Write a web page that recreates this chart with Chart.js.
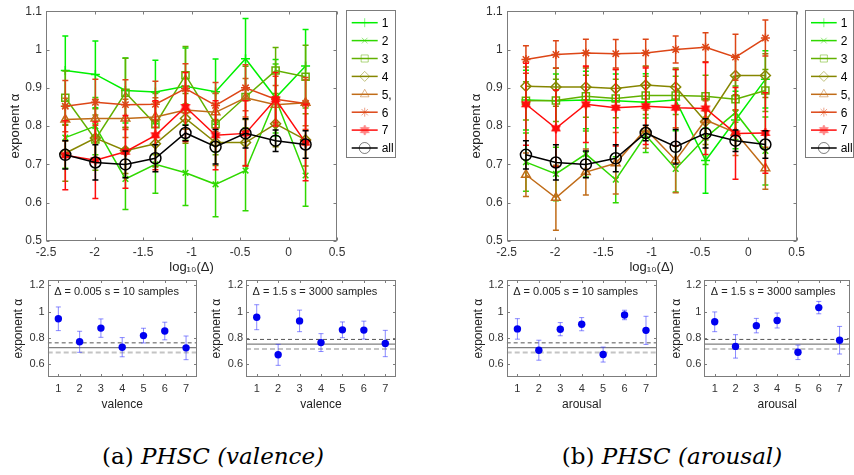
<!DOCTYPE html>
<html><head><meta charset="utf-8">
<script src="https://cdn.jsdelivr.net/npm/chart.js@4.4.0/dist/chart.umd.min.js"></script>
<style>
html,body{margin:0;padding:0;background:#fff;width:854px;height:475px;overflow:hidden;}
canvas{position:absolute;}
.cap{position:absolute;font-family:"DejaVu Serif","Liberation Serif",serif;font-size:23px;line-height:26px;color:#000;white-space:nowrap;transform:translateX(-50%);}
.cap i{font-style:italic;}
</style></head><body>
<canvas id="tl" width="430" height="280" style="left:0;top:0"></canvas>
<canvas id="tr" width="424" height="280" style="left:430px;top:0"></canvas>
<canvas id="p1" width="210" height="150" style="left:0;top:270px"></canvas>
<canvas id="p2" width="210" height="150" style="left:205px;top:270px"></canvas>
<canvas id="p3" width="210" height="150" style="left:455px;top:270px"></canvas>
<canvas id="p4" width="189" height="150" style="left:665px;top:270px"></canvas>
<div class="cap" style="left:213px;top:443px">(a) <i>PHSC (valence)</i></div>
<div class="cap" style="left:672px;top:443px">(b) <i>PHSC (arousal)</i></div>
<script>
// ---------------- data ----------------
const logDelta = [-2.301, -1.991, -1.681, -1.372, -1.062, -0.752, -0.443, -0.133, 0.176];
const seriesNames = ['1', '2', '3', '4', '5,', '6', '7', 'all'];
const levels = [1, 2, 3, 4, 5, 6, 7];
const topXTicks = [-2.5, -2, -1.5, -1, -0.5, 0, 0.5];
const topYTicks = [0.5, 0.6, 0.7, 0.8, 0.9, 1.0, 1.1];
const smallYTicks = [0.6, 0.8, 1.0, 1.2];
const noteFirst = 'Δ = 0.005 s = 10 samples';
const noteLast = 'Δ = 1.5 s = 3000 samples';

// valence
const val1 = [0.945, 0.935, 0.893, 0.889, 0.904, 0.890, 0.976, 0.874, 0.957];
const val1Err = [0.090, 0.087, 0.085, 0.083, 0.100, 0.085, 0.105, 0.100, 0.095];
const val2 = [0.770, 0.800, 0.662, 0.700, 0.678, 0.648, 0.684, 0.872, 0.671];
const val2Err = [0.080, 0.075, 0.080, 0.075, 0.085, 0.085, 0.105, 0.090, 0.080];
const val3 = [0.874, 0.765, 0.887, 0.805, 0.933, 0.805, 0.876, 0.945, 0.929];
const val3Err = [0.070, 0.080, 0.090, 0.080, 0.075, 0.080, 0.080, 0.060, 0.082];
const val4 = [0.729, 0.769, 0.736, 0.754, 0.820, 0.757, 0.757, 0.806, 0.764];
const val4Err = [0.073, 0.060, 0.060, 0.060, 0.065, 0.060, 0.060, 0.060, 0.068];
const val5 = [0.817, 0.820, 0.820, 0.824, 0.842, 0.836, 0.874, 0.856, 0.861];
const val5Err = [0.056, 0.050, 0.050, 0.050, 0.050, 0.050, 0.050, 0.050, 0.060];
const val6 = [0.852, 0.862, 0.856, 0.857, 0.898, 0.854, 0.900, 0.870, 0.859];
const val6Err = [0.067, 0.060, 0.065, 0.060, 0.065, 0.060, 0.060, 0.060, 0.068];
const val7 = [0.724, 0.711, 0.733, 0.776, 0.850, 0.776, 0.781, 0.870, 0.757];
const val7Err = [0.090, 0.100, 0.095, 0.090, 0.090, 0.090, 0.085, 0.070, 0.100];

// arousal
const aro1 = [0.868, 0.866, 0.868, 0.866, 0.862, 0.868, 0.710, 0.816, 0.922];
const aro1Err = [0.078, 0.070, 0.075, 0.070, 0.075, 0.080, 0.085, 0.075, 0.075];
const aro2 = [0.706, 0.675, 0.727, 0.660, 0.776, 0.688, 0.770, 0.835, 0.735];
const aro2Err = [0.076, 0.070, 0.060, 0.060, 0.045, 0.060, 0.070, 0.070, 0.089];
const aro3 = [0.866, 0.867, 0.878, 0.872, 0.880, 0.880, 0.878, 0.870, 0.893];
const aro3Err = [0.050, 0.055, 0.055, 0.050, 0.050, 0.050, 0.055, 0.060, 0.055];
const aro4 = [0.904, 0.902, 0.902, 0.898, 0.907, 0.902, 0.812, 0.932, 0.932];
const aro4Err = [0.050, 0.050, 0.050, 0.050, 0.050, 0.050, 0.060, 0.050, 0.057];
const aro5 = [0.673, 0.613, 0.680, 0.703, 0.792, 0.711, 0.816, 0.783, 0.690];
const aro5Err = [0.057, 0.085, 0.060, 0.080, 0.050, 0.085, 0.050, 0.060, 0.055];
const aro6 = [0.974, 0.987, 0.991, 0.989, 0.991, 1.000, 1.006, 0.980, 1.030];
const aro6Err = [0.036, 0.036, 0.036, 0.037, 0.036, 0.035, 0.038, 0.060, 0.047];
const aro7 = [0.857, 0.794, 0.857, 0.848, 0.852, 0.848, 0.846, 0.781, 0.782];
const aro7Err = [0.107, 0.100, 0.100, 0.100, 0.100, 0.100, 0.120, 0.120, 0.105];

// all
const allVal = [0.725, 0.705, 0.700, 0.716, 0.782, 0.746, 0.781, 0.762, 0.752];
const allErr = [0.037, 0.046, 0.035, 0.035, 0.020, 0.045, 0.038, 0.028, 0.036];

// ---------------- styles ----------------
const seriesColors = ['#00f000', '#30d800', '#62b000', '#868600', '#c06c18', '#dd4616', '#ff0c0c', '#000000'];
function hexStar(color, r) {
  const c = document.createElement('canvas');
  const s = Math.ceil(r * 2 + 4); c.width = s; c.height = s;
  const g = c.getContext('2d'); g.translate(s / 2, s / 2);
  g.beginPath();
  for (let k = 0; k < 12; k++) {
    const ang = -Math.PI / 2 + k * Math.PI / 6;
    const rr = k % 2 === 0 ? r : r * 0.55;
    g.lineTo(rr * Math.cos(ang), rr * Math.sin(ang));
  }
  g.closePath(); g.fillStyle = color; g.fill();
  g.strokeStyle = color; g.lineWidth = 1; g.stroke();
  return c;
}
const pointStyles = ['cross', 'crossRot', 'rect', 'rectRot', 'triangle', 'star', hexStar('#ff0c0c', 5), 'circle'];
const pointRadii = [4.5, 4, 5, 5, 5, 4.5, 5, 5.5];
const FONT = '"Liberation Sans", Arial, sans-serif';
const fmt = v => String(parseFloat(Number(v).toFixed(2)));

// ---------------- plugins ----------------
const errorBarPlugin = {
  id: 'errbars',
  beforeDatasetDraw(chart, args) {
    const ds = chart.data.datasets[args.index];
    if (!ds.errors) return;
    const ys = chart.scales.y, ctx = chart.ctx;
    ctx.save();
    ctx.strokeStyle = ds.errorColor || ds.borderColor;
    ctx.lineWidth = ds.errorWidth || 1.5;
    const cap = ds.errorCap || 3;
    args.meta.data.forEach((pt, i) => {
      const v = ds.data[i].y, e = ds.errors[i], x = pt.x;
      const y1 = ys.getPixelForValue(v - e), y2 = ys.getPixelForValue(v + e);
      ctx.beginPath();
      ctx.moveTo(x, y1); ctx.lineTo(x, y2);
      ctx.moveTo(x - cap, y1); ctx.lineTo(x + cap, y1);
      ctx.moveTo(x - cap, y2); ctx.lineTo(x + cap, y2);
      ctx.stroke();
    });
    ctx.restore();
  }
};

function drawMarker(ctx, ds, x, y) {
  const st = ds.pointStyle;
  if (typeof st !== 'string') { ctx.drawImage(st, x - st.width / 2, y - st.height / 2); return; }
  ctx.strokeStyle = ds.pointBorderColor; ctx.fillStyle = ds.pointBackgroundColor; ctx.lineWidth = 1;
  if (Chart.helpers && Chart.helpers.drawPoint) {
    Chart.helpers.drawPoint(ctx, {pointStyle: st, radius: ds.pointRadius, borderWidth: 1, rotation: 0}, x, y);
  }
}

const boxPlugin = {
  id: 'mbox',
  afterDraw(chart, args, o) {
    const {ctx, chartArea: a, scales} = chart;
    ctx.save();
    ctx.strokeStyle = '#7c7c7c'; ctx.lineWidth = 1;
    const L = Math.round(a.left) + 0.5, T = Math.round(a.top) + 0.5, R = Math.round(a.right) - 0.5, B = Math.round(a.bottom) - 0.5;
    ctx.strokeRect(L, T, R - L, B - T);
    const tl = o.tick || 3;
    ctx.beginPath();
    scales.x.ticks.forEach(t => {
      const x = Math.round(scales.x.getPixelForValue(t.value)) + 0.5;
      ctx.moveTo(x, B); ctx.lineTo(x, B - tl); ctx.moveTo(x, T); ctx.lineTo(x, T + tl);
    });
    scales.y.ticks.forEach(t => {
      const y = Math.round(scales.y.getPixelForValue(t.value)) + 0.5;
      ctx.moveTo(L, y); ctx.lineTo(L + tl, y); ctx.moveTo(R, y); ctx.lineTo(R - tl, y);
    });
    ctx.stroke();
    if (o.note) {
      ctx.fillStyle = '#222'; ctx.font = '11px ' + FONT; ctx.textAlign = 'left'; ctx.textBaseline = 'middle';
      ctx.fillText(o.note, a.left + o.noteDx, a.top + o.noteDy);
    }
    if (o.legend) {
      const g = o.legend;
      ctx.fillStyle = '#fff'; ctx.fillRect(g.x0, g.y0, g.x1 - g.x0, g.y1 - g.y0);
      ctx.strokeStyle = '#7c7c7c'; ctx.lineWidth = 1;
      ctx.strokeRect(g.x0 + 0.5, g.y0 + 0.5, g.x1 - g.x0 - 1, g.y1 - g.y0 - 1);
      chart.data.datasets.forEach((ds, k) => {
        const y = g.row0 + k * g.step;
        ctx.strokeStyle = ds.borderColor; ctx.lineWidth = ds.borderWidth;
        ctx.beginPath(); ctx.moveTo(g.lx0, y); ctx.lineTo(g.lx1, y); ctx.stroke();
        ctx.globalAlpha = 0.5;
        drawMarker(ctx, ds, (g.lx0 + g.lx1) / 2, y);
        ctx.globalAlpha = 1;
        ctx.fillStyle = '#000'; ctx.font = '12px ' + FONT; ctx.textAlign = 'left'; ctx.textBaseline = 'middle';
        ctx.fillText(ds.label, g.tx, y + 1);
      });
    }
    ctx.restore();
  }
};

// ---------------- builders ----------------
function topChart(id, vals, errs, L) {
  const datasets = vals.map((v, k) => ({
    label: seriesNames[k],
    data: logDelta.map((x, i) => ({x, y: v[i]})),
    errors: errs[k],
    borderColor: seriesColors[k],
    backgroundColor: seriesColors[k],
    borderWidth: 1.5,
    pointStyle: pointStyles[k],
    pointRadius: pointRadii[k],
    pointBorderColor: seriesColors[k],
    pointBackgroundColor: 'rgba(0,0,0,0)',
    pointBorderWidth: 1.5,
    order: 7 - k,
    tension: 0,
    fill: false
  }));
  return new Chart(document.getElementById(id), {
    type: 'line',
    data: {datasets},
    options: {
      responsive: false, animation: false, devicePixelRatio: 1,
      layout: {padding: {left: L.padLeft, right: L.padRight, top: 10, bottom: 0}},
      plugins: {legend: {display: false}, tooltip: {enabled: false}, mbox: {legend: L.legend, tick: 3}},
      scales: {
        x: {
          type: 'linear', min: -2.5, max: 0.5,
          afterBuildTicks: s => { s.ticks = topXTicks.map(value => ({value})); },
          afterFit: s => { s.height = 39; },
          grid: {display: false, drawTicks: false}, border: {display: false},
          ticks: {padding: 4, color: '#333', font: {family: FONT, size: 12}, callback: v => fmt(v), maxRotation: 0},
          title: {display: true, text: 'log₁₀(Δ)', color: '#222', font: {family: FONT, size: 13}, padding: {top: 0, bottom: 5}}
        },
        y: {
          type: 'linear', min: 0.5, max: 1.1,
          afterBuildTicks: s => { s.ticks = topYTicks.map(value => ({value})); },
          afterFit: s => { s.width = L.yW; },
          grid: {display: false, drawTicks: false}, border: {display: false},
          ticks: {padding: 4, color: '#333', font: {family: FONT, size: 12}, callback: v => fmt(v)},
          title: {display: true, text: 'exponent α', color: '#222', font: {family: FONT, size: 13}, padding: {top: L.yTitlePad, bottom: 0}}
        }
      }
    },
    plugins: [errorBarPlugin, boxPlugin]
  });
}

function smallChart(id, vals, errs, idx, note, xTitle, L) {
  const pts = levels.map((lv, k) => ({x: lv, y: vals[k][idx]}));
  const pe = levels.map((lv, k) => errs[k][idx]);
  const ref = allVal[idx], refE = allErr[idx];
  const hline = (y, color, w, dash, order) => ({
    type: 'line', data: [{x: 0.5, y}, {x: 7.5, y}], borderColor: color, borderWidth: w,
    borderDash: dash, pointRadius: 0, order, fill: false
  });
  return new Chart(document.getElementById(id), {
    type: 'scatter',
    data: {datasets: [
      {type: 'scatter', data: pts, errors: pe, errorColor: 'rgba(60,60,255,0.6)', errorWidth: 1, errorCap: 2.5,
       pointStyle: 'circle', pointRadius: 3.7, pointBackgroundColor: '#0000f0', pointBorderColor: '#0000f0', pointBorderWidth: 0, order: 0},
      hline(ref + refE, '#555', 1, [4, 3], 3),
      hline(ref, '#808080', 1.3, [], 2),
      hline(ref - refE, '#c4c4c4', 2, [5, 3], 1)
    ]},
    options: {
      responsive: false, animation: false, devicePixelRatio: 1,
      layout: {padding: {left: 0, right: L.padRight, top: 10, bottom: 0}},
      plugins: {legend: {display: false}, tooltip: {enabled: false}, mbox: {tick: 2.5, note, noteDx: 6.5, noteDy: 12.3}},
      scales: {
        x: {
          type: 'linear', min: 0.5, max: 7.5,
          afterBuildTicks: s => { s.ticks = levels.map(value => ({value})); },
          afterFit: s => { s.height = 42.7; },
          grid: {display: false, drawTicks: false}, border: {display: false},
          ticks: {padding: 5, color: '#333', font: {family: FONT, size: 11}, callback: v => fmt(v), maxRotation: 0},
          title: {display: true, text: xTitle, color: '#222', font: {family: FONT, size: 12}, padding: {top: 0, bottom: 7.8}}
        },
        y: {
          type: 'linear', min: 0.5, max: 1.24,
          afterBuildTicks: s => { s.ticks = smallYTicks.map(value => ({value})); },
          afterFit: s => { s.width = L.yW; },
          grid: {display: false, drawTicks: false}, border: {display: false},
          ticks: {padding: 3, color: '#333', font: {family: FONT, size: 11}, callback: v => fmt(v)},
          title: {display: true, text: 'exponent α', color: '#222', font: {family: FONT, size: 12}, padding: {top: L.yTitlePad, bottom: 0}}
        }
      }
    },
    plugins: [errorBarPlugin, boxPlugin]
  });
}

const valVals = [val1, val2, val3, val4, val5, val6, val7, allVal];
const valErrs = [val1Err, val2Err, val3Err, val4Err, val5Err, val6Err, val7Err, allErr];
const aroVals = [aro1, aro2, aro3, aro4, aro5, aro6, aro7, allVal];
const aroErrs = [aro1Err, aro2Err, aro3Err, aro4Err, aro5Err, aro6Err, aro7Err, allErr];

topChart('tl', valVals, valErrs, {
  padLeft: 0, padRight: 93, yW: 46, yTitlePad: 7.2,
  legend: {x0: 346, y0: 10, x1: 396, y1: 158, row0: 22.7, step: 17.9, lx0: 351.7, lx1: 377.7, tx: 381.7}
});
topChart('tr', aroVals, aroErrs, {
  padLeft: 30, padRight: 57.3, yW: 46.7, yTitlePad: 8.9,
  legend: {x0: 375, y0: 10, x1: 424, y1: 158, row0: 22.7, step: 17.9, lx0: 381, lx1: 406.7, tx: 410.7}
});
smallChart('p1', valVals, valErrs, 0, noteFirst, 'valence', {padRight: 13.3, yW: 47.7, yTitlePad: 11.8});
smallChart('p2', valVals, valErrs, 8, noteLast, 'valence', {padRight: 19, yW: 41, yTitlePad: 4.8});
smallChart('p3', aroVals, aroErrs, 0, noteFirst, 'arousal', {padRight: 8.3, yW: 51.7, yTitlePad: 16.1});
smallChart('p4', aroVals, aroErrs, 8, noteLast, 'arousal', {padRight: 0.5, yW: 39.3, yTitlePad: 4.5});
</script>
</body></html>
